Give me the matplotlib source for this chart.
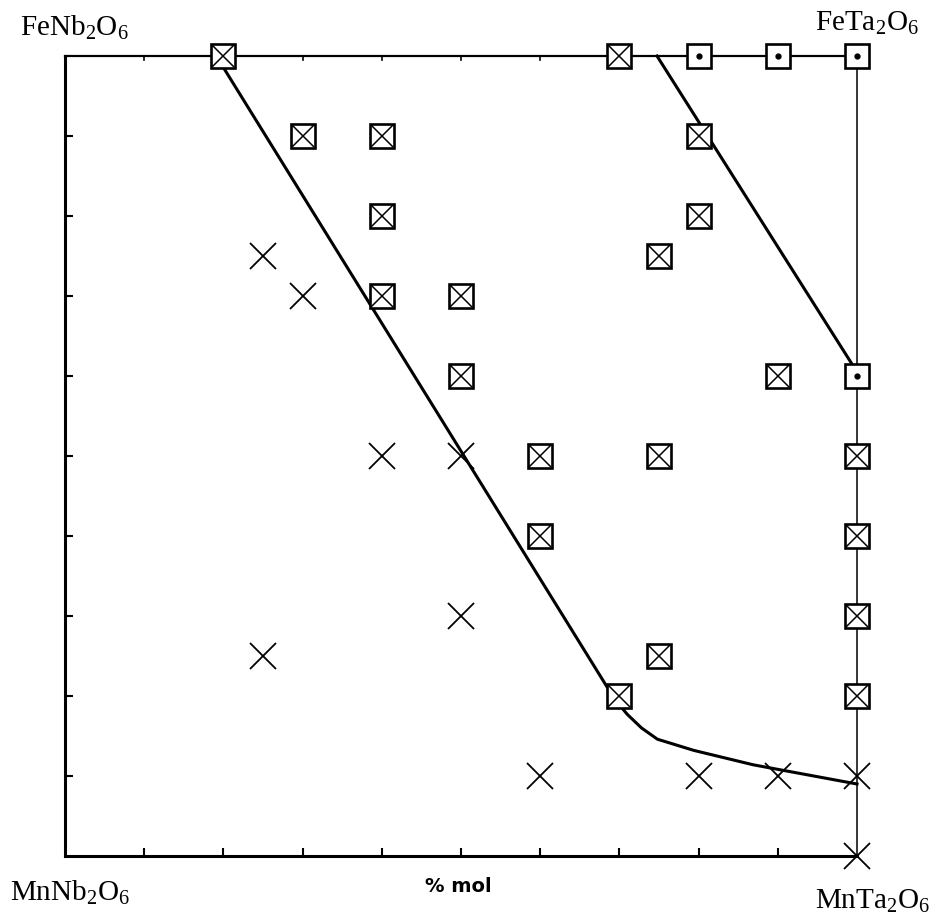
import numpy as np
from matplotlib import pyplot as plt

plt.rcParams['font.family'] = ['Liberation Serif', 'DejaVu Serif']

# --- datos (x = % mol Ta, y = % mol Fe) ---
# dos fases (cuadro con cruz)
x_bx = [20, 30, 40, 40, 40, 50, 50, 60, 60, 70, 80, 80, 75, 90, 75, 75, 70, 100, 100, 100, 100]
y_bx = [100, 90, 90, 80, 70, 70, 60, 50, 40, 100, 90, 80, 75, 60, 50, 25, 20, 50, 40, 30, 20]

# ferrotantalita (cuadro con punto)
x_pt = [80, 90, 100, 100]
y_pt = [100, 100, 100, 60]

# columbita (cruz)
x_cr = [25, 30, 40, 50, 50, 25, 60, 80, 90, 100, 100]
y_cr = [75, 70, 50, 50, 30, 25, 10, 10, 10, 10, 0]

# limites de fase
lim1_x = [19.1, 69.4, 71.0, 72.8, 74.8, 79.4, 86.9, 100.0]
lim1_y = [100, 19.6, 17.7, 16.0, 14.6, 13.2, 11.4, 9.0]
lim2_x = [74.75, 100]
lim2_y = [100, 60.5]

W, H = 941, 920
fig = plt.figure(figsize=(W / 100, H / 100), dpi=100)
ax = fig.add_axes([65 / W, 1 - 857 / H, 792 / W, 800 / H])
ax.set_xlim(0, 100)
ax.set_ylim(0, 100)

ax.plot(lim1_x, lim1_y, color='k', lw=2.2, clip_on=False, solid_joinstyle='round')
ax.plot(lim2_x, lim2_y, color='k', lw=2.2, clip_on=False)

ax.plot(x_bx, y_bx, ls='none', marker='s', ms=17, mfc='white', mec='k', mew=1.9, clip_on=False, zorder=3)
ax.plot(x_bx, y_bx, ls='none', marker='x', ms=16, mec='k', mew=1.1, clip_on=False, zorder=4)

ax.plot(x_pt, y_pt, ls='none', marker='s', ms=17, mfc='white', mec='k', mew=1.9, clip_on=False, zorder=3)
ax.plot(x_pt, y_pt, ls='none', marker='o', ms=3.5, mfc='k', mec='k', clip_on=False, zorder=4)

ax.plot(x_cr, y_cr, ls='none', marker='x', ms=19, mec='k', mew=1.3, clip_on=False, zorder=4)

for s in ['left', 'bottom']:
    ax.spines[s].set_linewidth(2.2)
ax.spines['top'].set_linewidth(1.6)
ax.spines['right'].set_linewidth(1.1)

ticks = np.arange(10, 100, 10)
ax.set_xticks(ticks)
ax.set_yticks(ticks)
ax.tick_params(direction='in', length=6, width=1.5, labelbottom=False, labelleft=False)

# marcas pequeñas en el borde superior
for t in ticks:
    ax.plot([t, t], [100, 99.5], color='k', lw=1.2, clip_on=False)

def etiqueta(px, py, s):
    fig.text(px / W, 1 - py / H, s, fontsize=21, ha='left', va='baseline')

etiqueta(20, 35, r'FeNb$_\mathregular{2}$O$_\mathregular{6}$')
etiqueta(815, 30, r'FeTa$_\mathregular{2}$O$_\mathregular{6}$')
etiqueta(10, 900, r'MnNb$_\mathregular{2}$O$_\mathregular{6}$')
etiqueta(815, 908, r'MnTa$_\mathregular{2}$O$_\mathregular{6}$')
fig.text(458 / W, 1 - 887 / H, '% mol', family='DejaVu Sans', fontsize=14, fontweight='bold',
         ha='center', va='center')

plt.savefig('out.png', dpi=100)
